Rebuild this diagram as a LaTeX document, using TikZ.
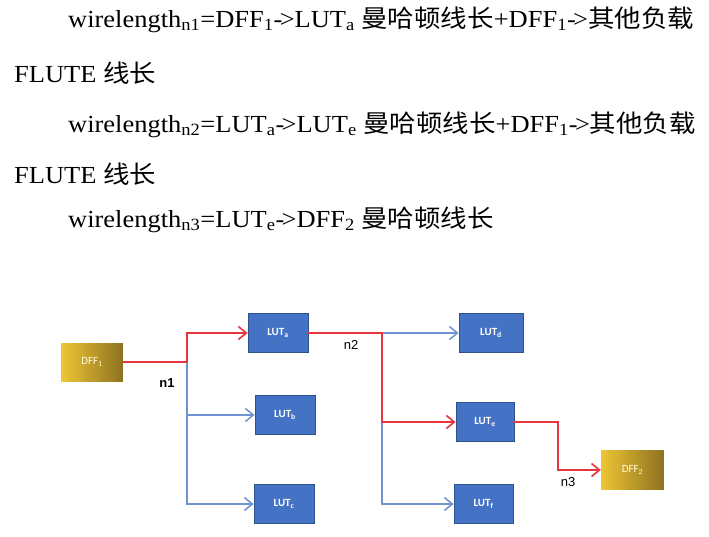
\documentclass[tikz,border=0pt]{standalone}
\usepackage{fontspec}
\usepackage{graphicx}
\setmainfont{Liberation Serif}
\newfontfamily\cjk{Noto Sans CJK SC}
\newfontfamily\boxfont{Carlito}
\newfontfamily\lblfont{Liberation Sans}
\usetikzlibrary{arrows.meta}
\definecolor{lutblue}{HTML}{4472C4}
\definecolor{lutborder}{HTML}{2F528F}
\definecolor{wirered}{HTML}{E8343C}
\definecolor{wireblue}{HTML}{7093D2}
\definecolor{goldL}{HTML}{EEC534}
\definecolor{goldR}{HTML}{8F7322}
\newcommand\arr{-\kern-2.5pt>}
\newcommand\wl[1]{\scalebox{1.08}[1]{#1}}
% gradient box drawn as thin strips: x1 y1 x2 y2
\newcommand\goldstrips[4]{%
  \foreach \i in {0,...,39}{%
    \pgfmathsetmacro\pc{100-\i*100/39}%
    \fill[goldL!\pc!goldR] ({#1+(#3-#1)*\i/40},#2) rectangle ({#1+(#3-#1)*(\i+1)/40+0.3},#4);
  }}
\tikzset{
  txt/.style={anchor=base west, inner sep=0pt, font=\fontsize{24.5}{30}\selectfont},
  lut/.style={draw=lutborder, line width=0.8pt, fill=lutblue, minimum width=60pt, minimum height=39pt, inner sep=0pt, text=white, font=\boxfont\bfseries\fontsize{11}{12}\selectfont},
  dff/.style={minimum width=62pt, minimum height=39pt, inner sep=0pt, text=white!85!yellow, font=\boxfont\fontsize{11}{12}\selectfont},
  redw/.style={draw=wirered, line width=1.6pt},
  bluew/.style={draw=wireblue, line width=1.5pt},
  arrowhd/.style={-{Straight Barb[length=8pt,width=13pt]}},
  lbl/.style={inner sep=0pt, font=\lblfont\fontsize{13}{15}\selectfont}
}
\begin{document}
\begin{tikzpicture}[x=1pt,y=-1pt]
\useasboundingbox[fill=white] (0,0) rectangle (709,536);
% text
\node[txt] (t1) at (68,27) {\wl{wirelength\textsubscript{n1}=DFF\textsubscript{1}\arr LUT\textsubscript{a} {\cjk 曼哈顿线长}+DFF\textsubscript{1}\arr{\cjk 其他负载}}};
\node[txt] (t2) at (14,82) {\wl{FLUTE {\cjk 线长}}};
\node[txt] (t3) at (68,132) {\wl{wirelength\textsubscript{n2}=LUT\textsubscript{a}\arr LUT\textsubscript{e} {\cjk 曼哈顿线长}+DFF\textsubscript{1}\arr{\cjk 其他负载}}};
\node[txt] (t4) at (14,183) {\wl{FLUTE {\cjk 线长}}};
\node[txt] (t5) at (68,227) {\wl{wirelength\textsubscript{n3}=LUT\textsubscript{e}\arr DFF\textsubscript{2} {\cjk 曼哈顿线长}}};
% gradient fills of the DFF boxes
\goldstrips{61}{342.5}{123}{381.5}
\goldstrips{601}{450}{664}{490}
% boxes
\node[dff] (dff1) at (92,362) {DFF\textsubscript{1}};
\node[lut] (luta) at (278,333) {LUT\textsubscript{a}};
\node[lut] (lutb) at (285,415) {LUT\textsubscript{b}};
\node[lut] (lutc) at (284,504) {LUT\textsubscript{c}};
\node[lut, minimum width=64pt] (lutd) at (491,333) {LUT\textsubscript{d}};
\node[lut, minimum width=58pt] (lute) at (485,422) {LUT\textsubscript{e}};
\node[lut, minimum width=59pt] (lutf) at (483.5,504) {LUT\textsubscript{f}};
\node[dff, minimum width=63pt, minimum height=40pt] (dff2) at (632.5,470) {DFF\textsubscript{2}};
% junctions
\coordinate (j1) at (187,362);
\coordinate (j2) at (382,333);
\coordinate (j2b) at (382,422);
\coordinate (j3) at (558,422);
% blue wires
\draw[bluew,arrowhd] (j1) |- (lutb.west);
\draw[bluew,arrowhd] (j1) |- (lutc.west);
\draw[bluew,arrowhd] (j2) -- (lutd.west);
\draw[bluew,arrowhd] (j2b) |- (lutf.west);
% red wires
\draw[redw] (dff1.east) -- (j1);
\draw[redw,arrowhd] (j1) |- (luta.west);
\draw[redw,arrowhd] (luta.east) -- (j2) |- (lute.west);
\draw[redw,arrowhd] (lute.east) -- (j3) |- (dff2.west);
% labels
\node[lbl, font=\lblfont\bfseries\fontsize{13}{15}\selectfont] (n1) at (167,383) {n1};
\node[lbl] (n2) at (351,345) {n2};
\node[lbl] (n3) at (568,482) {n3};
\end{tikzpicture}
\end{document}
